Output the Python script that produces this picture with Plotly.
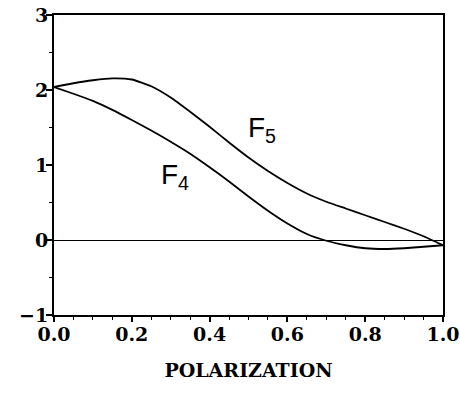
import plotly.graph_objects as go

polarization = [0.0, 0.05, 0.1, 0.15, 0.2, 0.25, 0.3, 0.35, 0.4, 0.45, 0.5,
                0.55, 0.6, 0.65, 0.7, 0.75, 0.8, 0.85, 0.9, 0.95, 1.0]
f5_values = [2.04, 2.09, 2.13, 2.155, 2.14, 2.05, 1.9, 1.71, 1.51, 1.3, 1.1,
             0.92, 0.76, 0.62, 0.51, 0.42, 0.33, 0.24, 0.15, 0.05, -0.07]
f4_values = [2.04, 1.95, 1.855, 1.735, 1.6, 1.46, 1.31, 1.15, 0.97, 0.78, 0.58,
             0.39, 0.22, 0.08, -0.01, -0.07, -0.11, -0.12, -0.11, -0.09, -0.07]

x_ticks = [0.0, 0.2, 0.4, 0.6, 0.8, 1.0]
y_ticks = [-1, 0, 1, 2, 3]

label_f5 = {"text": "F<sub>5</sub>", "x": 0.535, "y": 1.47}
label_f4 = {"text": "F<sub>4</sub>", "x": 0.31, "y": 0.85}

fig = go.Figure()
for vals in (f5_values, f4_values):
    fig.add_trace(go.Scatter(x=polarization, y=vals, mode="lines",
                             line=dict(color="black", width=1.8, shape="spline", smoothing=0.5),
                             showlegend=False, hoverinfo="skip"))

for lab in (label_f5, label_f4):
    fig.add_annotation(x=lab["x"], y=lab["y"], text=lab["text"], showarrow=False,
                       font=dict(family="Liberation Sans, Arial", size=28, color="black"))

tickfont = dict(family="DejaVu Serif", size=19, color="black", weight="bold")

fig.update_xaxes(range=[0, 1], tickvals=x_ticks, ticktext=[f"{v:.1f}" for v in x_ticks],
                 ticks="outside", ticklen=5, tickwidth=1.5, tickcolor="black",
                 minor=dict(dtick=0.05, ticks="outside", ticklen=3, tickcolor="black", tickwidth=1),
                 showline=True, linecolor="black", linewidth=2, mirror=True,
                 showgrid=False, zeroline=False, tickfont=tickfont, automargin=False,
                 ticklabelstandoff=-4, ticklabeloverflow="allow",
                 title=dict(text="POLARIZATION", standoff=20,
                            font=dict(family="DejaVu Serif", size=19, color="black", weight="bold")))
fig.update_yaxes(range=[-1, 3], tickvals=y_ticks,
                 ticks="outside", ticklen=6, tickwidth=1.5, tickcolor="black",
                 minor=dict(dtick=0.5, ticks="outside", ticklen=3, tickcolor="black", tickwidth=1),
                 showline=True, linecolor="black", linewidth=2, mirror=True,
                 showgrid=False, zeroline=True, zerolinecolor="black", zerolinewidth=1.2,
                 tickfont=tickfont, automargin=False, ticklabelstandoff=-6,
                 ticklabeloverflow="allow")

fig.update_layout(width=460, height=398, margin=dict(l=54, r=17, t=15, b=83),
                  plot_bgcolor="white", paper_bgcolor="white")

fig.write_html("out.html", config={"displayModeBar": False},
               post_script="document.body.style.margin='0';")
